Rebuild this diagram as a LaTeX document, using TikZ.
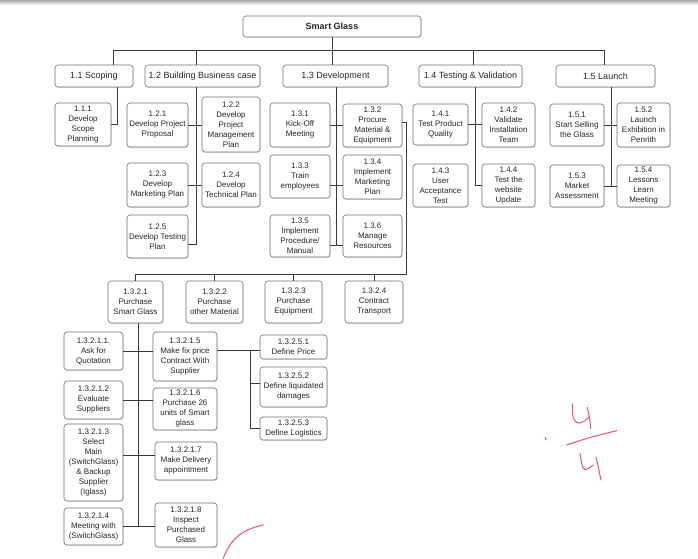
\documentclass[tikz,border=0pt]{standalone}
\usepackage{fontspec}
\setmainfont{Liberation Sans}
\definecolor{boxgrey}{HTML}{707070}
\definecolor{linegrey}{HTML}{383838}
\definecolor{inkred}{HTML}{F0506E}
\usetikzlibrary{shadows,calc}

\begin{document}
\begin{tikzpicture}[
x=1pt, y=-1pt,
box/.style={rectangle, draw=boxgrey, rounded corners=3pt, fill=white, line width=0.6pt, align=center, inner sep=0.5pt, text=black!85, drop shadow={shadow xshift=0.7pt, shadow yshift=-0.9pt, opacity=0.25}},
head/.style={box, font=\fontsize{9}{11}\selectfont, minimum height=22pt},
leaf/.style={box, font=\fontsize{8}{10}\selectfont},
dims/.style 2 args={minimum width=#1pt, minimum height=#2pt},
link/.style={draw=linegrey, line width=0.6pt},
ink/.style={draw=inkred, line width=1pt, line cap=round, line join=round}
]
\fill[white] (0,0) rectangle (698,558);
\useasboundingbox (0,0) rectangle (698,558);
\shade[top color=black!35, bottom color=white] (0,0) rectangle (698,5);

\node (smart) [head, font=\bfseries\fontsize{9}{11}\selectfont, dims={178}{21}] at (332,26.5) {Smart Glass};
\node (scope) [head, minimum width=78pt] at (94,76) {1.1 Scoping};
\node (bizcase) [head, minimum width=115pt] at (202.5,76) {1.2 Building Business case};
\node (dev) [head, minimum width=105pt] at (335.5,76) {1.3 Development};
\node (testing) [head, minimum width=103pt] at (470.5,76) {1.4 Testing \& Validation};
\node (launch) [head, minimum width=99pt] at (605.5,76) {1.5 Launch};

\node (scopeplan) [leaf, dims={56}{43}] at (83,124.5) {1.1.1\\Develop\\Scope\\Planning};

\node (proposal) [leaf, dims={61}{44}] at (157.5,125) {1.2.1\\Develop Project\\Proposal};
\node (pmplan) [leaf, dims={58}{55}] at (231,124.5) {1.2.2\\Develop\\Project\\Management\\Plan};
\node (mktplan) [leaf, dims={61}{44}] at (157.5,185) {1.2.3\\Develop\\Marketing Plan};
\node (techplan) [leaf, dims={58}{44}] at (231,185) {1.2.4\\Develop\\Technical Plan};
\node (testplan) [leaf, dims={61}{43}] at (157.5,236.5) {1.2.5\\Develop Testing\\Plan};

\node (kickoff) [leaf, dims={60}{44}] at (300,125) {1.3.1\\Kick-Off\\Meeting};
\node (procure) [leaf, dims={59}{43}] at (372.5,125.5) {1.3.2\\Procure\\Material \&\\Equipment};
\node (train) [leaf, dims={60}{43}] at (300,176.5) {1.3.3\\Train\\employees};
\node (mktimpl) [leaf, dims={59}{44}] at (372.5,177) {1.3.4\\Implement\\Marketing\\Plan};
\node (procedure) [leaf, dims={60}{42}] at (300,236) {1.3.5\\Implement\\Procedure/\\Manual};
\node (resources) [leaf, dims={59}{42}] at (372.5,236) {1.3.6\\Manage\\Resources};

\node (quality) [leaf, dims={55}{41}] at (440.5,124.5) {1.4.1\\Test Product\\Quality};
\node (install) [leaf, dims={53}{44}] at (508.5,125) {1.4.2\\Validate\\Installation\\Team};
\node (uat) [leaf, dims={55}{43}] at (440.5,185.5) {1.4.3\\User\\Acceptance\\Test};
\node (website) [leaf, dims={53}{43}] at (508.5,185.5) {1.4.4\\Test the\\website\\Update};

\node (selling) [leaf, dims={54}{42}] at (577,125) {1.5.1\\Start Selling\\the Glass};
\node (exhibit) [leaf, dims={53}{44}] at (643.5,125) {1.5.2\\Launch\\Exhibition in\\Penrith};
\node (market) [leaf, dims={54}{42}] at (577,186) {1.5.3\\Market\\Assessment};
\node (lessons) [leaf, dims={53}{42}] at (643.5,186) {1.5.4\\Lessons\\Learn\\Meeting};

\node (buyglass) [leaf, dims={55}{42}] at (135.5,302) {1.3.2.1\\Purchase\\Smart Glass};
\node (buyother) [leaf, dims={57}{42}] at (214.5,302) {1.3.2.2\\Purchase\\other Material};
\node (buyequip) [leaf, dims={57}{42}] at (293.5,302) {1.3.2.3\\Purchase\\Equipment};
\node (transport) [leaf, dims={58}{42}] at (374,302) {1.3.2.4\\Contract\\Transport};

\node (quote) [leaf, dims={59}{38}] at (93.5,351) {1.3.2.1.1.\\Ask for\\Quotation};
\node (evaluate) [leaf, dims={59}{38}] at (93.5,400) {1.3.2.1.2\\Evaluate\\Suppliers};
\node (select) [leaf, dims={59}{77}] at (93.5,462.5) {1.3.2.1.3\\Select\\Main\\(SwitchGlass)\\\& Backup\\Supplier\\(Iglass)};
\node (meeting) [leaf, dims={59}{37}] at (93.5,526.5) {1.3.2.1.4\\Meeting with\\(SwitchGlass)};
\node (contract) [leaf, dims={64}{49}] at (185,356.5) {1.3.2.1.5\\Make fix price\\Contract With\\Supplier};
\node (buy26) [leaf, dims={64}{42}] at (185,409) {1.3.2.1.6\\Purchase 26\\units of Smart\\glass};
\node (delivery) [leaf, dims={62}{38}] at (186,461) {1.3.2.1.7\\Make Delivery\\appointment};
\node (inspect) [leaf, dims={62}{44}] at (186,525) {1.3.2.1.8\\Inspect\\Purchased\\Glass};

\node (price) [leaf, dims={67}{24}] at (293.5,347) {1.3.2.5.1\\Define Price};
\node (damages) [leaf, dims={67}{40}] at (293.5,387) {1.3.2.5.2\\Define liquidated\\damages};
\node (logistics) [leaf, dims={67}{23}] at (293.5,428.5) {1.3.2.5.3\\Define Logistics};

\coordinate (bus) at (332,50);
\coordinate (t11) at (117,87);
\coordinate (t12) at (196,87);
\coordinate (t13) at (336,87);
\coordinate (b13) at (336,245);
\coordinate (t14) at (475,87);
\coordinate (t15) at (611,87);
\coordinate (b15) at (611,186);
\coordinate (r132) at (406,274);
\coordinate (b1321) at (138,526.5);
\coordinate (t1325) at (250,350);

\draw[link] (smart) -- (bus);
\foreach \n/\dx in {scope/19.5, bizcase/-6.5, dev/-3.5, testing/2.5, launch/-1}
  \draw[link] ([xshift=\dx pt]\n.north) |- (bus);

\draw[link] (t11) |- (scopeplan);

\draw[link] (t12) |- ([yshift=-7.5pt]testplan.east);
\draw[link] (proposal.east) -- (proposal.east -| pmplan.west);
\draw[link] (mktplan.east) -- (mktplan.east -| techplan.west);

\draw[link] (t13) -- (b13);
\draw[link] (kickoff.east) -- (kickoff.east -| procure.west);
\draw[link] ([yshift=-8.5pt]train.east) -- ([yshift=-8.5pt]train.east -| mktimpl.west);
\draw[link] ([yshift=-9pt]procedure.east) -- ([yshift=-9pt]procedure.east -| resources.west);

\draw[link] (t14) |- (website);
\draw[link] (quality.east) -- (quality.east -| install.west);

\draw[link] (t15) -- (b15);
\draw[link] (selling.east) -- (selling.east -| exhibit.west);
\draw[link] (market.east) -- (market.east -| lessons.west);

\draw[link] ([yshift=3.5pt]procure.east) -| (r132) -| (buyglass);
\draw[link] (buyother) -- (buyother |- r132);
\draw[link] (buyequip) -- (buyequip |- r132);
\draw[link] (transport) -- (transport |- r132);

\draw[link] (buyglass.south -| b1321) -- (b1321);
\draw[link] (quote.east) -- (quote.east -| contract.west);
\draw[link] (evaluate.east) -- (evaluate.east -| buy26.west);
\draw[link] ([yshift=7pt]select.east) -- ([yshift=7pt]select.east -| delivery.west);
\draw[link] (meeting.east) -- (meeting.east -| inspect.west);

\draw[link] ([yshift=6.5pt]contract.east) -- (t1325) |- (logistics);
\draw[link] ([yshift=-3pt]price.west -| t1325) -- ([yshift=-3pt]price.west);
\draw[link] ([yshift=4pt]damages.west -| t1325) -- ([yshift=4pt]damages.west);

\draw[ink] (545,437.3) -- (546,440);
\draw[ink] plot[smooth] coordinates {(572.3,404) (573.3,418) (578.3,423) (585,420.7) (589.3,416.7)};
\draw[ink] plot[smooth] coordinates {(587.3,407.3) (589.5,418) (590.7,428.3)};
\draw[ink] plot[smooth] coordinates {(566.7,445) (590,437.5) (616.7,430.7)};
\draw[ink] plot[smooth] coordinates {(580,453.3) (582.7,467.3) (586.7,469.3) (593.3,465)};
\draw[ink] plot[smooth] coordinates {(596,457.3) (598.5,468) (601,480)};
\draw[ink] (223.3,558) .. controls (232,536) and (245,529) .. (263.3,525);
\end{tikzpicture}
\end{document}
